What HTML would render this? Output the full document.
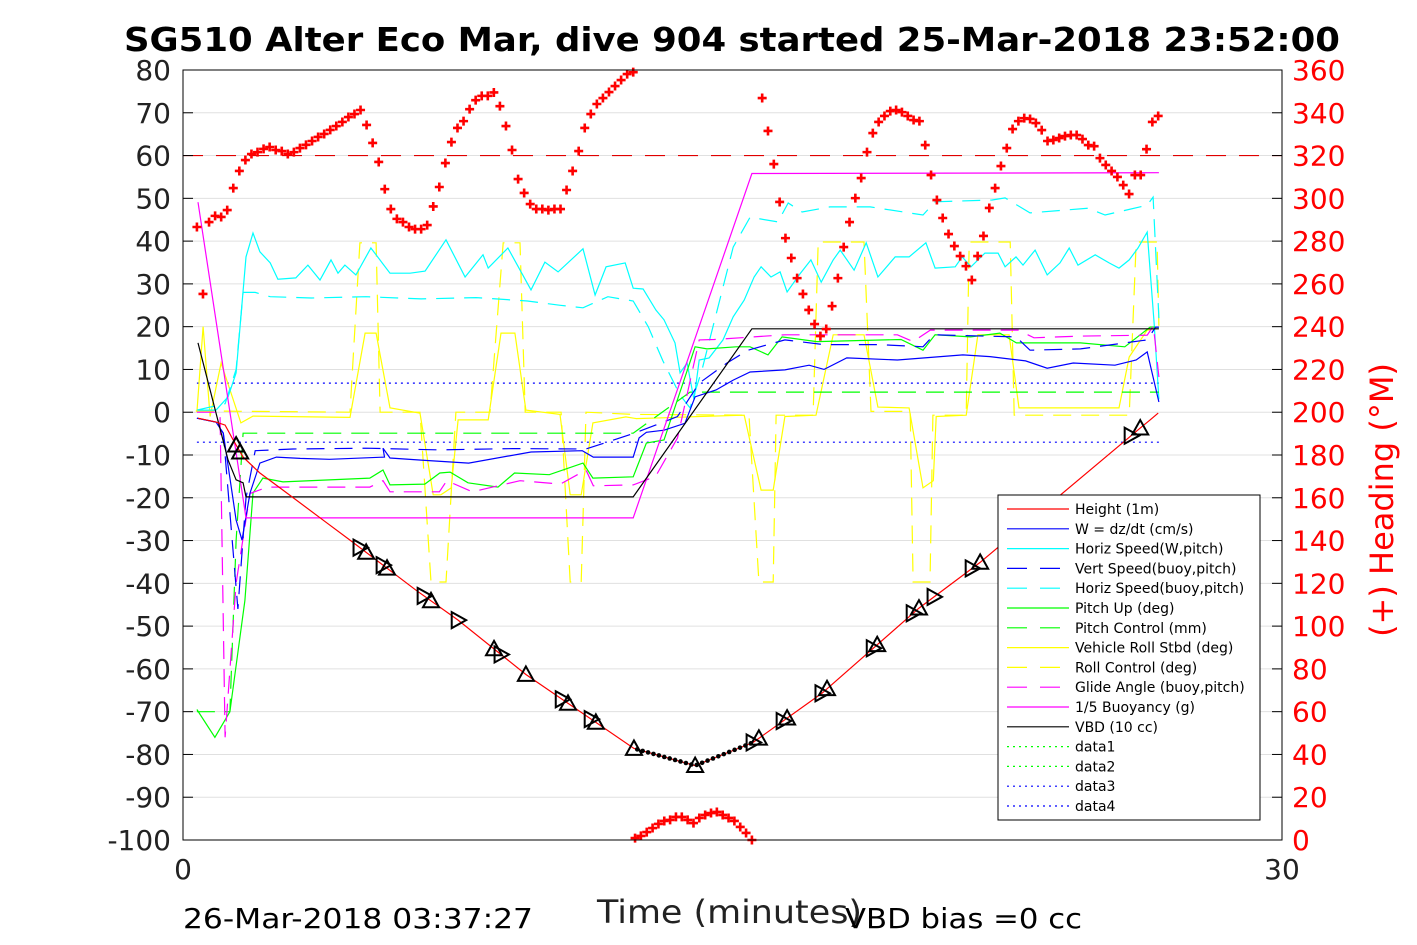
<!DOCTYPE html>
<html><head><meta charset="utf-8"><style>
html,body{margin:0;padding:0;background:#fff;}
svg{display:block;font-family:"DejaVu Sans","Liberation Sans",sans-serif;}
</style></head><body>
<svg id="chart" width="1417" height="945" viewBox="0 0 1417 945" xmlns="http://www.w3.org/2000/svg">
<rect width="1417" height="945" fill="#fff"/>
<g id="grid"></g>
<g id="series"></g>
<rect x="183" y="70" width="1099" height="770" fill="none" stroke="#000" stroke-width="1"/>
<g id="axes"></g>
<text x="732" y="51" text-anchor="middle" font-size="33" font-weight="bold" textLength="1216" lengthAdjust="spacingAndGlyphs">SG510 Alter Eco Mar, dive 904 started 25-Mar-2018 23:52:00</text>
<text x="597" y="923" font-size="32" fill="#222" textLength="265" lengthAdjust="spacingAndGlyphs">Time (minutes)</text>
<text x="183" y="928" font-size="28" textLength="350" lengthAdjust="spacingAndGlyphs">26-Mar-2018 03:37:27</text>
<text x="845" y="928" font-size="28" textLength="237" lengthAdjust="spacingAndGlyphs">VBD bias =0 cc</text>
<text transform="translate(1393,500) rotate(-90)" text-anchor="middle" font-size="32" fill="#ff0000">(+) Heading (°M)</text>
<g id="legend"></g>
</svg>
<script>
// ---- data (time in minutes, values in plot units) ----
const leftTicks = [80,70,60,50,40,30,20,10,0,-10,-20,-30,-40,-50,-60,-70,-80,-90,-100];
const rightTicks = [360,340,320,300,280,260,240,220,200,180,160,140,120,100,80,60,40,20,0];
const xTicks = [0,30];

const heightT = [0.41,0.90,1.15,1.37,1.64,2.10,2.73,3.90,4.56,6.36,7.51,9.36,12.31,13.98,15.56,17.44,20.09,21.76,26.13,26.40,26.62];
const heightV = [-1.4,-2.3,-3.0,-6.5,-10.5,-14.2,-18.2,-25.7,-29.9,-41.6,-48.6,-61.3,-78.6,-82.6,-77.2,-65.7,-45.8,-35.1,-3.7,-1.8,-0.2];

const wT = [0.38,0.90,1.10,1.45,1.61,1.83,2.10,2.55,3.2,4.0,5.5,5.46,5.65,6.5,7.8,9.5,10.9,11.2,12.29,12.45,12.65,13.13,13.70,13.98,14.55,15.02,15.48,16.43,17.09,17.50,18.12,19.5,21.29,22.03,23.0,23.59,24.3,25.44,26.02,26.32,26.64];
const wV = [-1.4,-2.3,-4.9,-25.2,-29.9,-18.9,-11.9,-10.5,-10.8,-11,-10.5,-8.4,-10.7,-11.2,-11.9,-9.3,-9.0,-10.5,-10.5,-6.0,-4.7,-4.2,-2.6,3.6,5.2,7.5,9.4,9.9,11.0,10.0,12.7,12.2,13.4,13.0,12.0,10.3,11.5,11.0,12.2,14.1,2.4];

const hsWT = [0.41,0.90,1.23,1.45,1.72,1.91,2.10,2.38,2.59,3.08,3.41,3.74,4.04,4.23,4.42,4.72,5.13,5.65,6.20,6.61,7.18,7.70,8.19,8.33,8.87,9.50,9.88,10.24,10.92,11.25,11.55,12.07,12.29,12.56,12.91,13.13,13.43,13.57,13.76,13.95,14.09,14.36,14.74,15.02,15.32,15.59,15.78,16.05,16.30,16.49,16.82,17.14,17.42,17.75,17.94,18.32,18.65,18.97,19.44,19.82,20.28,20.53,21.08,21.27,21.51,21.89,22.25,22.44,22.74,22.93,23.26,23.59,23.94,24.19,24.43,24.90,25.28,25.55,25.83,26.07,26.32,26.51,26.64];
const hsWV = [0.5,0.5,3.6,9.2,36.3,41.9,37.5,34.9,31.1,31.4,34.4,30.9,35.6,32.5,34.4,32.1,38.4,32.5,32.5,33.0,40.3,31.6,36.8,33.7,38.4,28.6,35.1,32.8,38.2,27.4,34.0,34.9,29.0,28.8,23.9,21.6,16.2,9.2,11.5,2.9,12.2,12.7,16.9,22.3,26.2,31.6,34.0,31.6,32.8,28.1,32.1,35.6,30.4,35.6,37.9,33.2,39.6,31.6,36.3,36.3,39.6,33.7,34.0,36.3,34.0,37.2,37.2,34.0,36.3,34.4,37.9,32.1,34.9,38.4,34.4,36.8,34.9,33.7,35.6,38.4,42.1,20.9,3.0];

const vsT = [0.38,0.90,1.10,1.50,1.72,1.97,3.0,5.0,7.0,9.0,11.0,12.29,12.9,13.5,14.09,14.85,15.42,16.43,17.5,19.0,20.2,20.5,22.74,23.12,24.5,26.32,26.55,26.64];
const vsV = [-1.4,-2.3,-4.9,-46,-20,-9.0,-8.6,-8.4,-8.8,-8.5,-8.6,-5.0,-3.0,-1.0,6.8,11.5,14.5,16.9,15.8,15.8,15.3,18.1,17.6,14.5,14.8,16.9,19.9,19.9];

const hsBT = [0.38,1.15,1.45,1.64,1.97,2.38,3.5,5.0,6.5,8.0,9.4,10.3,10.92,11.6,12.29,12.7,13.1,13.57,13.84,14.17,15.02,15.48,16.24,16.52,16.90,17.66,18.76,20.20,20.53,22.09,22.44,23.12,24.71,25.17,26.32,26.48,26.64];
const hsBV = [0.5,2,10,28,28,27,26.7,27,26.5,26.8,26,25,24.4,27,26,20,12,4,1,10,38.6,45.6,44.5,48.9,46.8,48,48,46.1,49.2,49.6,50.1,46.6,47.7,46.1,48.4,50.3,22];

const pitchT = [0.38,0.87,1.28,1.69,1.91,2.18,2.73,5.1,5.46,5.65,6.6,7.01,7.29,7.78,8.60,9.05,10.0,10.92,11.19,12.29,12.65,13.13,13.98,14.3,15.1,15.48,15.97,16.35,17.3,19.6,20.2,20.53,21.5,22.3,22.75,24.5,25.71,26.40,26.64];
const pitchV = [-69.5,-76,-70,-44,-18.9,-15.4,-16.3,-15.4,-13.5,-17,-16.8,-14.2,-14.0,-16.5,-17.5,-14.2,-14.6,-11.9,-15.4,-15.1,-7.2,-6.5,15.3,14.8,15.3,15.3,13.4,17.6,16.5,17.0,14.5,18.1,17.6,18.5,16.2,16.2,15.3,19.9,19.9];

const pcT = [0.38,1.28,1.45,1.64,12.29,13.84,26.64];
const pcV = [-70,-70,-30,-4.9,-4.9,4.7,4.7];

const rollT = [0.38,0.55,0.74,1.04,1.58,1.91,4.56,4.97,5.27,5.65,6.47,6.83,7.04,7.32,7.51,8.33,8.68,9.06,9.36,10.29,10.57,10.87,11.19,12.09,12.37,13.10,14.09,15.32,15.78,16.11,16.43,17.28,17.75,18.59,18.97,19.82,20.20,20.48,20.56,21.38,21.70,22.55,22.82,25.55,25.83,26.32,26.59];
const rollV = [0,20,-1,11.5,-2.5,-0.9,-1.2,18.5,18.5,1,-0.2,-19.3,-19.3,-17.7,-1.8,-1.8,18.5,18.5,0.5,-0.5,-19.3,-19.3,-2.5,-1.1,-1.5,-1.3,-1.0,-0.7,-18.2,-18.2,-1.0,-0.7,18.1,18.1,1.2,1.0,-17.7,-16,-1.0,-0.7,18.1,18.1,1.0,1.0,12.9,19.2,19.5];

const rcT = [0.35,4.56,4.83,5.27,5.38,6.47,6.77,7.18,7.45,8.38,8.74,9.20,9.34,10.32,10.57,10.87,11.0,12.29,15.45,15.72,16.11,16.19,17.20,17.34,18.59,18.78,19.85,19.93,20.39,20.47,21.38,21.46,22.58,22.69,25.83,26.02,26.59,26.64];
const rcV = [0.3,0,39.6,39.6,0,0,-39.7,-39.7,0,0,39.6,39.6,0,0,-39.7,-39.7,0,-0.5,-0.7,-39.7,-39.7,-0.7,-0.7,39.8,39.8,0.2,0.2,-39.7,-39.7,-0.7,-0.7,39.8,39.8,-0.7,-0.7,39.8,39.8,20];

const glideT = [0.38,1.01,1.15,1.45,1.83,2.3,5.1,5.46,5.65,7.0,7.2,7.9,9.2,10.3,11.0,11.2,12.29,12.9,13.5,14.09,14.5,16.43,19.5,19.93,20.4,22.8,23.23,24.5,26.32,26.49,26.64];
const glideV = [0,0,-76,-40,-19,-17.5,-17.5,-16,-18.6,-18.6,-16,-18.6,-16,-16.8,-13.5,-17.2,-17.0,-15,-6,16.9,17.0,18.1,18.1,16.5,19.2,19.2,17.4,17.8,18.0,20.2,8.2];

const buoyT = [0.41,1.72,12.29,15.53,26.64];
const buoyV = [49.1,-24.7,-24.7,55.8,56.0];

const vbdT = [0.41,1.23,1.45,1.64,1.72,12.29,15.53,26.64];
const vbdV = [16.2,-11.2,-15.8,-16.5,-19.8,-19.8,19.5,19.5];

const data3V = 6.8, data4V = -7.0, dataStartT = 0.38, dataEndT = 26.64;
const headingRefDeg = 320;

const headSeg1 = {t0:0.38, t1:12.29, deg:[286.6,255.3,288.9,291.8,291.3,294.5,304.8,312.8,317.9,320.7,321.6,323.1,324.0,322.6,322.1,320.7,321.6,323.5,325.0,326.8,328.7,330.1,332.0,333.8,335.7,338.0,339.4,341.3,334.3,325.9,317.0,304.3,295.0,290.4,288.9,286.6,285.6,285.6,287.5,296.2,305.3,316.5,326.3,332.9,336.1,341.7,345.9,347.9,347.9,349.5,343.1,333.8,322.6,309.0,302.5,297.3,295.0,295.0,294.5,295.0,295.0,303.9,312.8,322.1,332.9,339.4,344.1,346.9,349.7,352.5,355.3,358.1,359.0]};
const headSeg2 = {t0:12.34, t1:15.53, deg:[0.9,1.9,3.7,5.6,7.5,8.9,9.4,10.8,10.8,9.4,7.9,10.3,11.7,12.6,13.1,11.7,10.3,8.9,6.1,3.3,0]};
const headSeg3 = {t0:15.81, t1:26.62, deg:[346.9,331.5,316.0,298.3,281.4,272.1,262.7,255.3,247.8,241.2,235.6,238.9,249.6,262.7,277.2,288.9,300.1,309.5,321.6,330.5,335.7,338.5,340.8,341.3,340.3,338.5,336.6,336.1,324.9,310.9,299.2,290.8,283.3,277.7,273.0,268.3,261.8,273.0,282.4,295.5,304.8,315.1,323.5,332.4,336.1,337.5,337.1,335.2,331.9,326.8,327.3,328.2,329.1,329.6,329.6,327.7,324.9,324.4,318.8,315.6,312.8,310.0,306.2,302.0,310.9,310.9,323.0,335.7,338.5]};

const markerT = [1.45,1.56,4.83,5.0,5.46,5.57,6.58,6.77,7.51,8.49,8.68,9.36,10.35,10.51,11.14,11.27,12.31,13.98,15.56,15.72,16.38,16.49,17.44,17.58,18.84,18.95,19.93,20.09,20.50,21.54,21.76,25.88,26.13];
const markerUp = [1,1,0,1,0,1,0,1,0,1,0,1,0,1,0,1,1,1,0,1,0,1,0,1,0,1,0,1,0,0,1,0,1];
const dotStartT = 12.4, dotEndT = 15.5, dotCount = 22;

// ---- scales ----
const X0=183, X1=1282, Y0=70, Y1=840;
const xs = t => X0 + t*(X1-X0)/30;
const ys = v => Y0 + (80-v)*(Y1-Y0)/180;
const yh = d => Y1 - d*(Y1-Y0)/360;
const NS = "http://www.w3.org/2000/svg";
function mk(tag, attrs, parent){ const e=document.createElementNS(NS,tag); for(const k in attrs) e.setAttribute(k,attrs[k]); parent.appendChild(e); return e; }
function interp(ts, vs, t){ if(t<=ts[0]) return vs[0]; for(let i=1;i<ts.length;i++){ if(t<=ts[i]){ const f=(t-ts[i-1])/(ts[i]-ts[i-1]); return vs[i-1]+f*(vs[i]-vs[i-1]); } } return vs[vs.length-1]; }

const grid=document.getElementById('grid'), ser=document.getElementById('series'), axes=document.getElementById('axes'), leg=document.getElementById('legend');

leftTicks.forEach(v=>{
  const g=mk('line',{x1:X0,x2:X1,y1:ys(v),y2:ys(v),stroke:'#e0e0e0','stroke-width':1},grid);
  
  
  const tk=mk('line',{x1:X0,x2:X0+10,y1:ys(v),y2:ys(v),stroke:'#000'},axes);
  
  
  const tx=mk('text',{x:171,y:ys(v)+10,'text-anchor':'end','font-size':28,fill:'#222'},axes);
  tx.textContent=v;
  
  
});
rightTicks.forEach(d=>{
  const tk=mk('line',{x1:X1-10,x2:X1,y1:yh(d),y2:yh(d),stroke:'#000'},axes);
  
  
  const tx=mk('text',{x:1292,y:yh(d)+10,'font-size':28,fill:'#ff0000'},axes);
  tx.textContent=d;
  
  
});
xTicks.forEach(t=>{
  const tx=mk('text',{x:xs(t),y:879,'text-anchor':'middle','font-size':28,fill:'#222'},axes);
  tx.textContent=t;
  
  
});

function drawLine(ts, vs, color, dash, name){
  const d = ts.map((t,i)=>(i?'L':'M')+xs(t).toFixed(1)+','+ys(vs[i]).toFixed(1)).join(' ');
  const p = mk('path',{d:d,fill:'none',stroke:color,'stroke-width':1.2},ser);
  if(dash) p.setAttribute('stroke-dasharray',dash);
  
  
}
const DASH='18 10', DOT='2 4';
const ref=mk('line',{x1:X0,x2:X1,y1:yh(headingRefDeg),y2:yh(headingRefDeg),stroke:'#e00000','stroke-width':1.2,'stroke-dasharray':'20 13'},ser);



drawLine([dataStartT,dataEndT],[data3V,data3V],'#0000ff',DOT,'data3-line');
drawLine([dataStartT,dataEndT],[data4V,data4V],'#0000ff',DOT,'data4-line');
drawLine(rcT,rcV,'#ffff00',DASH,'roll-control-line');
drawLine(rollT,rollV,'#ffff00',null,'vehicle-roll-line');
drawLine(hsBT,hsBV,'#00ffff',DASH,'horiz-speed-buoy-line');
drawLine(hsWT,hsWV,'#00ffff',null,'horiz-speed-w-line');
drawLine(pcT,pcV,'#00ff00',DASH,'pitch-control-line');
drawLine(pitchT,pitchV,'#00ff00',null,'pitch-up-line');
drawLine(glideT,glideV,'#ff00ff',DASH,'glide-angle-line');
drawLine(vsT,vsV,'#0000ff',DASH,'vert-speed-line');
drawLine(wT,wV,'#0000ff',null,'w-line');
drawLine(buoyT,buoyV,'#ff00ff',null,'buoyancy-line');
drawLine(vbdT,vbdV,'#000000',null,'vbd-line');
drawLine(heightT,heightV,'#ff0000',null,'height-line');

for(let i=0;i<dotCount;i++){
  const t=dotStartT+(dotEndT-dotStartT)*i/(dotCount-1);
  const c=mk('circle',{cx:xs(t),cy:ys(interp(heightT,heightV,t)),r:2.3,fill:'#000'},ser);
  
  
}
markerT.forEach((t,i)=>{
  const cx=xs(t), cy=ys(interp(heightT,heightV,t));
  const s=8;
  const pts = markerUp[i] ? `${cx},${cy-s} ${cx+s},${cy+s*0.8} ${cx-s},${cy+s*0.8}` : `${cx-s*0.8},${cy-s} ${cx+s},${cy} ${cx-s*0.8},${cy+s}`;
  const p=mk('polygon',{points:pts,fill:'none',stroke:'#000','stroke-width':2},ser);
  
  
});
[headSeg1,headSeg2,headSeg3].forEach(seg=>{
  const n=seg.deg.length;
  seg.deg.forEach((d,i)=>{
    const t=seg.t0+(seg.t1-seg.t0)*i/(n-1);
    const cx=xs(t), cy=yh(d);
    const p=mk('path',{d:`M${cx-4.5},${cy}H${cx+4.5}M${cx},${cy-4.5}V${cy+4.5}`,stroke:'#ff0000','stroke-width':2.6,fill:'none'},ser);
    
    
  });
});

const legItems=[
 ['Height (1m)','#ff0000',null],['W = dz/dt (cm/s)','#0000ff',null],['Horiz Speed(W,pitch)','#00ffff',null],
 ['Vert Speed(buoy,pitch)','#0000ff','20 13'],['Horiz Speed(buoy,pitch)','#00ffff','20 13'],['Pitch Up (deg)','#00ff00',null],
 ['Pitch Control (mm)','#00ff00','20 13'],['Vehicle Roll Stbd (deg)','#ffff00',null],['Roll Control (deg)','#ffff00','20 13'],
 ['Glide Angle (buoy,pitch)','#ff00ff','20 13'],['1/5 Buoyancy (g)','#ff00ff',null],['VBD (10 cc)','#000000',null],
 ['data1','#00ff00','2 4'],['data2','#00ff00','2 4'],['data3','#0000ff','2 4'],['data4','#0000ff','2 4']];
const lb=mk('rect',{x:998,y:495,width:262,height:325,fill:'#fff',stroke:'#000','stroke-width':1},leg);


legItems.forEach((it,i)=>{
  const y=509+i*19.8;
  const g=mk('g',{},leg);
  
  
  const l=mk('line',{x1:1007,x2:1069,y1:y,y2:y,stroke:it[1],'stroke-width':1.2},g);
  if(it[2]) l.setAttribute('stroke-dasharray',it[2]);
  const tx=mk('text',{x:1075,y:y+5,'font-size':14,fill:'#000'},g);
  tx.textContent=it[0];
});
</script>
</body></html>
